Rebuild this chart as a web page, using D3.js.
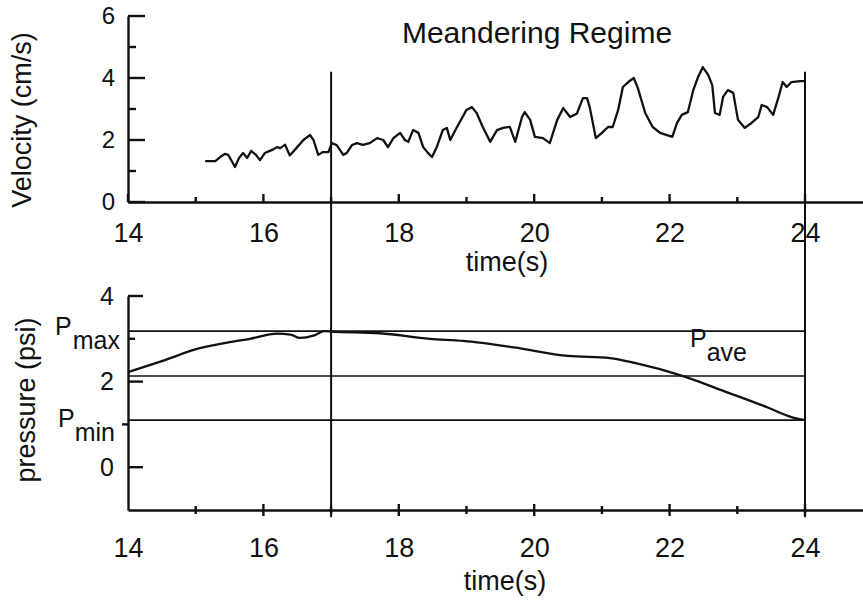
<!DOCTYPE html>
<html lang="en">
<head>
<meta charset="UTF-8" />
<title>Meandering Regime</title>
<style>
  body { margin: 0; background: #fff; }
  svg text { font-family: "Liberation Sans", Arial, Helvetica, sans-serif; fill: #111; }
</style>
</head>
<body>
<div id="wrapper"></div>
<script src="https://d3js.org/d3.v7.min.js"></script>
<script>
// velocity trace (s, cm/s)
const veloTime = [15.14, 15.29, 15.36, 15.43, 15.48, 15.54, 15.58, 15.64, 15.70, 15.76, 15.82, 15.89, 15.95,
  16.02, 16.13, 16.20, 16.25, 16.32, 16.39, 16.50, 16.59, 16.69, 16.74, 16.81, 16.88, 16.96,
  17.01, 17.08, 17.18, 17.23, 17.31, 17.38, 17.47, 17.57, 17.68, 17.77, 17.84, 17.92,
  18.02, 18.09, 18.14, 18.21, 18.29, 18.36, 18.42, 18.49, 18.56, 18.65, 18.71, 18.76, 18.86,
  19.00, 19.08, 19.15, 19.24, 19.35, 19.45, 19.54, 19.64, 19.72, 19.82, 19.86, 19.94,
  20.01, 20.13, 20.23, 20.34, 20.43, 20.53, 20.63, 20.72, 20.78, 20.82, 20.91,
  21.00, 21.09, 21.16, 21.24, 21.31, 21.39, 21.47, 21.53, 21.64, 21.75, 21.86, 21.96,
  22.04, 22.11, 22.18, 22.27, 22.35, 22.42, 22.49, 22.57, 22.63, 22.67, 22.74, 22.79, 22.86, 22.94,
  23.01, 23.11, 23.21, 23.31, 23.36, 23.44, 23.53, 23.61, 23.67, 23.73, 23.80, 23.93, 24.00];
const veloValue = [1.32, 1.32, 1.45, 1.55, 1.52, 1.29, 1.13, 1.42, 1.58, 1.42, 1.65, 1.52, 1.35,
  1.58, 1.68, 1.77, 1.74, 1.85, 1.50, 1.77, 2.00, 2.16, 2.00, 1.52, 1.61, 1.61,
  1.90, 1.84, 1.52, 1.58, 1.84, 1.90, 1.84, 1.90, 2.06, 2.00, 1.77, 2.06,
  2.23, 2.00, 1.94, 2.32, 2.23, 1.77, 1.61, 1.45, 1.77, 2.32, 2.39, 2.00, 2.42,
  2.97, 3.06, 2.87, 2.42, 1.94, 2.32, 2.39, 2.42, 1.94, 2.74, 2.90, 2.65,
  2.10, 2.06, 1.90, 2.65, 3.03, 2.74, 2.85, 3.35, 3.35, 3.06, 2.06,
  2.23, 2.42, 2.42, 2.97, 3.71, 3.87, 4.00, 3.68, 2.87, 2.42, 2.23, 2.16,
  2.10, 2.55, 2.81, 2.90, 3.61, 4.03, 4.35, 4.10, 3.77, 2.87, 2.81, 3.39, 3.61, 3.52,
  2.65, 2.39, 2.55, 2.74, 3.13, 3.06, 2.81, 3.39, 3.87, 3.71, 3.87, 3.90, 3.90];

// pressure trace (s, psi)
const presTime = [14.0, 14.5, 15.06, 15.5, 15.8, 16.2, 16.4, 16.54, 16.75, 16.9, 17.0, 17.72, 18.46,
  18.95, 19.7, 20.5, 21.12, 21.5, 22.2, 22.85, 23.44, 23.8, 24.0];
const presValue = [2.22, 2.48, 2.78, 2.92, 3.0, 3.12, 3.1, 3.02, 3.08, 3.18, 3.17, 3.13, 3.0,
  2.95, 2.8, 2.6, 2.55, 2.43, 2.13, 1.75, 1.4, 1.17, 1.1];

const pMax = 3.18, pAve = 2.13, pMin = 1.1;
const presLevels = [pMax, pAve, pMin];
const markTimes = [17, 24];

const timeTicks = [14, 16, 18, 20, 22, 24];
const timeMinor = [15, 17, 19, 21, 23];
const veloTicks = [0, 2, 4, 6];
const veloMinor = [1, 3, 5];
const presTicks = [0, 2, 4];
const presMinor = [3];
const presOutTick = [1];

const W = 863, H = 605;
const svg = d3.select("#wrapper").append("svg")
  .attr("width", W).attr("height", H);

const x = d3.scaleLinear().domain([14, 24]).range([128, 805]);
const xLong = x.copy().domain([14, x.invert(W)]).range([128, W]);
const yV = d3.scaleLinear().domain([0, 6]).range([202, 16]);
const yP = d3.scaleLinear().domain([-1, 4]).range([510, 296]);
const fmt = d3.format("d");
const INK = "#111";

function styleAxis(g, size) {
  g.selectAll("path, line").attr("stroke", INK).attr("stroke-width", 2.4);
  g.selectAll("text").attr("font-size", size).attr("fill", INK)
    .attr("font-family", '"Liberation Sans", Arial, sans-serif');
}

// tick marks drawn from the scales: a = start offset, b = end offset (px from axis line)
function yTicks(values, scale, x0, a, b) {
  svg.append("g").selectAll("line").data(values).join("line")
    .attr("x1", x0 + a).attr("x2", x0 + b)
    .attr("y1", d => scale(d)).attr("y2", d => scale(d))
    .attr("stroke", INK).attr("stroke-width", 2.4);
}
function xTicks(values, y0, a, b) {
  svg.append("g").selectAll("line").data(values).join("line")
    .attr("x1", d => x(d)).attr("x2", d => x(d))
    .attr("y1", y0 + a).attr("y2", y0 + b)
    .attr("stroke", INK).attr("stroke-width", 2.4);
}

// ---- top panel
svg.append("g").attr("transform", "translate(128,0)")
  .call(d3.axisLeft(yV).tickValues(veloTicks).tickFormat(fmt).tickSize(0).tickPadding(13))
  .call(g => styleAxis(g, 24));
yTicks(veloTicks, yV, 128, 0, 17);
yTicks(veloMinor, yV, 128, 0, 8);

svg.append("g").attr("transform", "translate(0,202)")
  .call(d3.axisBottom(xLong).tickValues(timeTicks).tickFormat(fmt).tickSize(0).tickPadding(21))
  .call(g => styleAxis(g, 27));
xTicks(timeTicks, 202, 0, -8);
xTicks(timeMinor, 202, 0, -5);

const veloLine = d3.line().x(d => x(d[0])).y(d => yV(d[1]));
svg.append("path")
  .datum(d3.zip(veloTime, veloValue))
  .attr("d", veloLine)
  .attr("fill", "none").attr("stroke", INK).attr("stroke-width", 2.3)
  .attr("stroke-linejoin", "round");

svg.append("text").attr("x", 537).attr("y", 43).attr("text-anchor", "middle")
  .attr("font-size", 30).text("Meandering Regime");
svg.append("text").attr("transform", "translate(31,120) rotate(-90)")
  .attr("text-anchor", "middle").attr("font-size", 27).text("Velocity (cm/s)");
svg.append("text").attr("x", 507).attr("y", 271).attr("text-anchor", "middle")
  .attr("font-size", 27).text("time(s)");

// ---- bottom panel
svg.append("g").attr("transform", "translate(128,0)")
  .call(d3.axisLeft(yP).tickValues(presTicks).tickFormat(fmt).tickSize(0).tickPadding(14))
  .call(g => styleAxis(g, 25));
yTicks(presTicks, yP, 128, 0, 15);
yTicks(presMinor, yP, 128, 0, 7);
yTicks(presOutTick, yP, 128, -6, 0);

svg.append("g").attr("transform", "translate(0,510)")
  .call(d3.axisBottom(xLong).tickValues(timeTicks).tickFormat(fmt).tickSize(0).tickPadding(28))
  .call(g => styleAxis(g, 27));
xTicks(timeTicks.slice(1), 510, -6, 6);
xTicks(timeMinor, 510, -4, 4);

// reference pressure levels
svg.append("g").selectAll("line").data(presLevels).join("line")
  .attr("x1", x(14)).attr("x2", x(24))
  .attr("y1", d => yP(d)).attr("y2", d => yP(d))
  .attr("stroke", INK).attr("stroke-width", 1.6);

const presLine = d3.line().curve(d3.curveMonotoneX).x(d => x(d[0])).y(d => yP(d[1]));
svg.append("path")
  .datum(d3.zip(presTime, presValue))
  .attr("d", presLine)
  .attr("fill", "none").attr("stroke", INK).attr("stroke-width", 2.3)
  .attr("stroke-linejoin", "round");

// vertical markers spanning both panels
svg.append("g").selectAll("line").data(markTimes).join("line")
  .attr("x1", d => x(d)).attr("x2", d => x(d))
  .attr("y1", yV(4.2)).attr("y2", yP(-1.17))
  .attr("stroke", INK).attr("stroke-width", 2);

function pLabel(px, py, sub, subDx) {
  const t = svg.append("text").attr("x", px).attr("y", py).attr("font-size", 25);
  t.append("tspan").text("P");
  t.append("tspan").attr("dy", 14).attr("dx", subDx).text(sub);
}
pLabel(55, yP(pMax) + 4, "max", 1);
pLabel(58, yP(pMin) + 7, "min", 0);
pLabel(690, yP(pAve) - 29, "ave", 0);

svg.append("text").attr("transform", "translate(35,400) rotate(-90)")
  .attr("text-anchor", "middle").attr("font-size", 27).text("pressure (psi)");
svg.append("text").attr("x", 505).attr("y", 590).attr("text-anchor", "middle")
  .attr("font-size", 27).text("time(s)");
</script>
</body>
</html>
